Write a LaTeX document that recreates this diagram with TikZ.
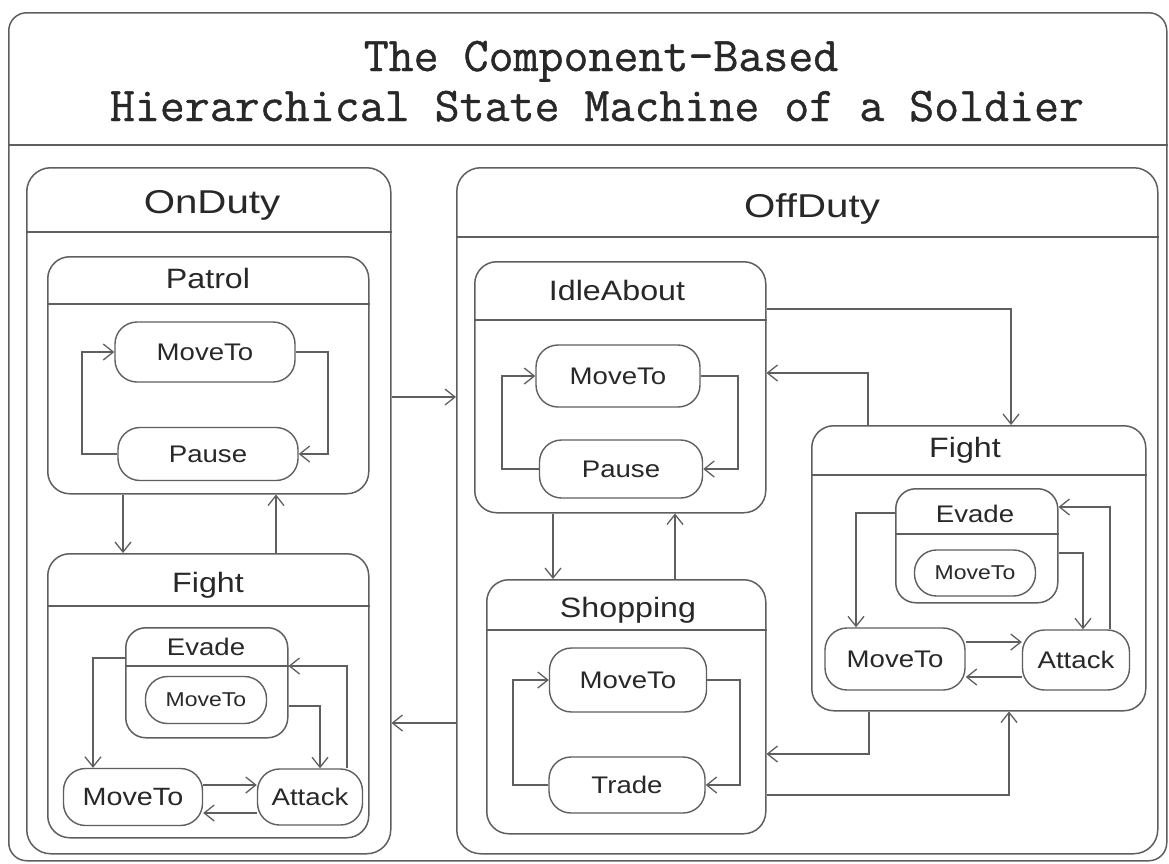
\documentclass[tikz,border=0pt]{standalone}
\usepackage{fontspec}
\setmainfont{Liberation Sans}[FakeStretch=1.15]
\newfontfamily\headfont{Liberation Sans}[FakeStretch=1.22]
\newfontfamily\titlefont{Latin Modern Mono}[FakeBold=0.8]
\usetikzlibrary{arrows.meta}
\definecolor{linec}{RGB}{95,95,95}
\definecolor{txtc}{RGB}{40,40,40}
\tikzset{
  box/.style={draw=linec, line width=1.5pt, rounded corners=24pt, anchor=north west, inner sep=0pt},
  st/.style={draw=linec, line width=1.4pt, rounded corners=22pt, inner sep=0pt, text=txtc},
  lab/.style={text=txtc, inner sep=0pt, anchor=base},
  ln/.style={draw=linec, line width=1.5pt},
  arr/.style={draw=linec, line width=1.3pt, -{Straight Barb[length=10pt,width=16pt]}},
  sz/.style={font=\fontsize{#1}{#1}\selectfont},
  hsz/.style={font=\headfont\fontsize{#1}{#1}\selectfont},
}
\begin{document}
\begin{tikzpicture}[x=1pt,y=-1pt]
\useasboundingbox[fill=white] (0,0) rectangle (1169,863);

% outer frame with the title
\node[box, rounded corners=18pt, minimum width=1158pt, minimum height=848pt] (outer) at (8,12) {};
\draw[ln] (outer.west |- 0,145) -- (outer.east |- 0,145);
\node[lab, font=\titlefont\fontsize{48.5}{48.5}\selectfont] (title1) at (601,71) {The Component-Based};
\node[lab, font=\titlefont\fontsize{48.5}{48.5}\selectfont] (title2) at (597,121) {Hierarchical State Machine of a Soldier};

% ---------------- OnDuty ----------------
\node[box, minimum width=364pt, minimum height=686pt] (onduty) at (26,167) {};
\draw[ln] (onduty.west |- 0,232) -- (onduty.east |- 0,232);
\node[lab, hsz=33] (t-onduty) at (212,213) {OnDuty};

% Patrol
\node[box, rounded corners=22pt, minimum width=321pt, minimum height=237pt] (patrol) at (47,256) {};
\draw[ln] (patrol.west |- 0,304) -- (patrol.east |- 0,304);
\node[lab, sz=28] (t-patrol) at (208,288) {Patrol};
\node[st, sz=24, minimum width=180pt, minimum height=60pt] (pmove) at (205,352) {MoveTo};
\node[st, sz=24, minimum width=180pt, minimum height=53pt] (ppause) at (208,454) {Pause};
\draw[arr] (ppause.west) -- (82,0 |- ppause.west) |- (pmove.west);
\draw[arr] (pmove.east) -- (328,0 |- pmove.east) |- (ppause.east);

% Fight (OnDuty)
\node[box, rounded corners=22pt, minimum width=321pt, minimum height=284pt] (lfight) at (47,553) {};
\draw[ln] (lfight.west |- 0,606) -- (lfight.east |- 0,606);
\node[lab, sz=28] (t-lfight) at (208,592) {Fight};
\node[box, rounded corners=20pt, minimum width=162pt, minimum height=110pt] (levade) at (125,627) {};
\draw[ln] (levade.west |- 0,666) -- (levade.east |- 0,666);
\node[lab, sz=24] (t-levade) at (206,655) {Evade};
\node[st, sz=20, minimum width=121pt, minimum height=47pt] (lem) at (206,700) {MoveTo};
\node[st, sz=25, minimum width=139pt, minimum height=57pt] (lmove) at (133,797) {MoveTo};
\node[st, sz=24, minimum width=105pt, minimum height=56pt] (lattack) at (310,797) {Attack};
\draw[arr] (levade.west |- 0,658) -- (93,658) -- (93,0 |- lmove.north);
\draw[arr] (levade.east |- 0,706) -| (320,0 |- lattack.north);
\draw[arr] (347,0 |- lattack.north) |- (levade.east |- 0,666);
\draw[arr] (lmove.east |- 0,785) -- (lattack.west |- 0,785);
\draw[arr] (lattack.west |- 0,813) -- (lmove.east |- 0,813);

\draw[arr] (123,0 |- patrol.south) -- (123,0 |- lfight.north);
\draw[arr] (276,0 |- lfight.north) -- (276,0 |- patrol.south);

% ---------------- OffDuty ----------------
\node[box, minimum width=701pt, minimum height=686pt] (offduty) at (456,167) {};
\draw[ln] (offduty.west |- 0,237) -- (offduty.east |- 0,237);
\node[lab, hsz=33] (t-offduty) at (812,217) {OffDuty};

% IdleAbout
\node[box, rounded corners=22pt, minimum width=291pt, minimum height=251pt] (idle) at (474,261) {};
\draw[ln] (idle.west |- 0,320) -- (idle.east |- 0,320);
\node[lab, sz=28] (t-idle) at (617,300) {IdleAbout};
\node[st, sz=24, minimum width=164pt, minimum height=62pt] (imove) at (618,376) {MoveTo};
\node[st, sz=24, minimum width=163pt, minimum height=58pt] (ipause) at (621,469) {Pause};
\draw[arr] (ipause.west) -- (502,0 |- ipause.west) |- (imove.west);
\draw[arr] (imove.east) -- (738,0 |- imove.east) |- (ipause.east);

% Shopping
\node[box, rounded corners=22pt, minimum width=279pt, minimum height=254pt] (shop) at (486,579) {};
\draw[ln] (shop.west |- 0,630) -- (shop.east |- 0,630);
\node[lab, sz=28] (t-shop) at (628,617) {Shopping};
\node[st, sz=24, minimum width=157pt, minimum height=64pt] (smove) at (628,680) {MoveTo};
\node[st, sz=24, minimum width=156pt, minimum height=56pt] (trade) at (627,785) {Trade};
\draw[arr] (trade.west) -- (513,0 |- trade.west) |- (smove.west);
\draw[arr] (smove.east) -- (740,0 |- smove.east) |- (trade.east);

\draw[arr] (553,0 |- idle.south) -- (553,0 |- shop.north);
\draw[arr] (675,0 |- shop.north) -- (675,0 |- idle.south);

% Fight (OffDuty)
\node[box, rounded corners=22pt, minimum width=334pt, minimum height=285pt] (rfight) at (811,425) {};
\draw[ln] (rfight.west |- 0,475) -- (rfight.east |- 0,475);
\node[lab, sz=28] (t-rfight) at (965,457) {Fight};
\node[box, rounded corners=20pt, minimum width=162pt, minimum height=114pt] (revade) at (895,488) {};
\draw[ln] (revade.west |- 0,534) -- (revade.east |- 0,534);
\node[lab, sz=24] (t-revade) at (975,522) {Evade};
\node[st, sz=20, minimum width=121pt, minimum height=46pt] (rem) at (975,573) {MoveTo};
\node[st, sz=24, minimum width=140pt, minimum height=62pt] (rmove) at (895,659) {MoveTo};
\node[st, sz=24, minimum width=107pt, minimum height=60pt] (rattack) at (1076,660) {Attack};
\draw[arr] (revade.west |- 0,513) -- (856,513) -- (856,0 |- rmove.north);
\draw[arr] (revade.east |- 0,553) -| (1083,0 |- rattack.north);
\draw[arr] (1110,0 |- rattack.north) |- (revade.east |- 0,507);
\draw[arr] (rmove.east |- 0,642) -- (rattack.west |- 0,642);
\draw[arr] (rattack.west |- 0,677) -- (rmove.east |- 0,677);

% transitions between the OffDuty states
\draw[arr] (idle.east |- 0,309) -| (1011,0 |- rfight.north);
\draw[arr] (868,0 |- rfight.north) |- (idle.east |- 0,373);
\draw[arr] (869,0 |- rfight.south) |- (shop.east |- 0,754);
\draw[arr] (shop.east |- 0,795) -| (1009,0 |- rfight.south);

% transitions between OnDuty and OffDuty
\draw[arr] (onduty.east |- 0,397) -- (offduty.west |- 0,397);
\draw[arr] (offduty.west |- 0,723) -- (onduty.east |- 0,723);
\end{tikzpicture}
\end{document}
